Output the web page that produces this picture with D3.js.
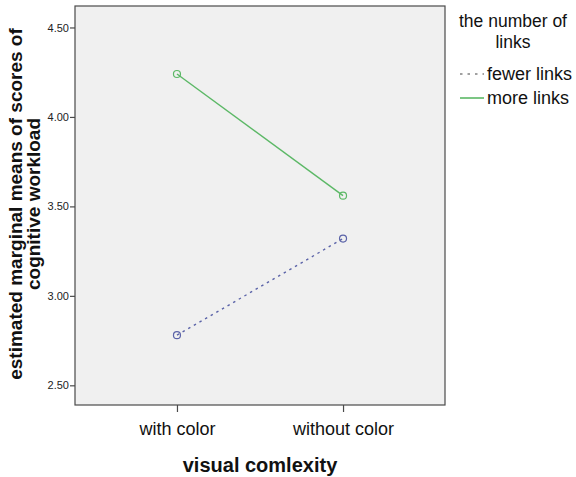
<!DOCTYPE html>
<html>
<head>
<meta charset="utf-8">
<script src="https://cdn.jsdelivr.net/npm/d3@7"></script>
<style>
  html, body { margin: 0; padding: 0; background: #ffffff; }
  svg { display: block; font-family: "Liberation Sans", Arial, sans-serif; }
</style>
</head>
<body>
<svg id="chart" width="576" height="477"></svg>
<script>
// Estimated marginal means: visual complexity x number of links
const categories = ["with color", "without color"];
const seriesNames = ["fewer links", "more links"];
const fewerLinks = [2.78, 3.32];
const moreLinks = [4.24, 3.56];
const yTicks = [2.50, 3.00, 3.50, 4.00, 4.50];
const yDomain = [2.39, 4.62];

const svg = d3.select("#chart");
const plot = { left: 75, top: 6, right: 445, bottom: 405 };

const x = d3.scalePoint()
  .domain(categories)
  .range([plot.left, plot.right])
  .padding(0.614);

const y = d3.scaleLinear()
  .domain(yDomain)
  .range([plot.bottom, plot.top]);

// plot background and frame
svg.append("rect")
  .attr("x", plot.left).attr("y", plot.top)
  .attr("width", plot.right - plot.left)
  .attr("height", plot.bottom - plot.top)
  .attr("fill", "#f0f0f0")
  .attr("stroke", "#4a4a4a")
  .attr("stroke-width", 1.2);

// y axis
const yAxis = svg.append("g")
  .attr("transform", `translate(${plot.left},0)`)
  .call(d3.axisLeft(y).tickValues(yTicks).tickFormat(d3.format(".2f")).tickSize(5).tickSizeOuter(0));
yAxis.select(".domain").remove();
yAxis.selectAll(".tick line").attr("stroke", "#4a4a4a").attr("stroke-width", 1.2);
yAxis.selectAll(".tick text")
  .attr("font-size", 11)
  .attr("font-family", "'Liberation Sans', Arial, sans-serif")
  .attr("fill", "#222222")
  .attr("x", -6);

// x axis
const xAxis = svg.append("g")
  .attr("transform", `translate(0,${plot.bottom})`)
  .call(d3.axisBottom(x).tickSize(7).tickSizeOuter(0));
xAxis.select(".domain").remove();
xAxis.selectAll(".tick line").attr("stroke", "#4a4a4a").attr("stroke-width", 1.2);
xAxis.selectAll(".tick text")
  .attr("font-size", 18)
  .attr("font-family", "'Liberation Sans', Arial, sans-serif")
  .attr("fill", "#111111")
  .attr("y", 17);

// axis titles
svg.append("text")
  .attr("x", (plot.left + plot.right) / 2)
  .attr("y", 472)
  .attr("text-anchor", "middle")
  .attr("font-size", 20)
  .attr("font-weight", "bold")
  .attr("fill", "#111111")
  .text("visual comlexity");

const yTitle = svg.append("text")
  .attr("transform", "translate(22,204) rotate(-90)")
  .attr("text-anchor", "middle")
  .attr("font-size", 19)
  .attr("font-weight", "bold")
  .attr("fill", "#111111");
yTitle.append("tspan").attr("x", 0).attr("y", 0).text("estimated marginal means of scores of");
yTitle.append("tspan").attr("x", 0).attr("y", 18).text("cognitive workload");

// series
const series = [
  { name: seriesNames[0], values: fewerLinks, color: "#5b63a8", dash: "2.5,4" },
  { name: seriesNames[1], values: moreLinks, color: "#5cb866", dash: null }
];

const line = d3.line()
  .x((d, i) => x(categories[i]))
  .y(d => y(d));

series.forEach(s => {
  svg.append("path")
    .datum(s.values)
    .attr("d", line)
    .attr("fill", "none")
    .attr("stroke", s.color)
    .attr("stroke-width", 1.4)
    .attr("stroke-dasharray", s.dash);
  svg.selectAll(null)
    .data(s.values)
    .enter().append("circle")
    .attr("cx", (d, i) => x(categories[i]))
    .attr("cy", d => y(d))
    .attr("r", 3.5)
    .attr("fill", "none")
    .attr("stroke", s.color)
    .attr("stroke-width", 1.2);
});

// legend
const legend = svg.append("g");
legend.append("text")
  .attr("x", 513).attr("y", 27)
  .attr("text-anchor", "middle")
  .attr("font-size", 17.5)
  .attr("fill", "#111111")
  .text("the number of");
legend.append("text")
  .attr("x", 513).attr("y", 48)
  .attr("text-anchor", "middle")
  .attr("font-size", 17.5)
  .attr("fill", "#111111")
  .text("links");

series.forEach((s, i) => {
  const ly = 74 + i * 24;
  legend.append("line")
    .attr("x1", 460).attr("x2", 484)
    .attr("y1", ly).attr("y2", ly)
    .attr("stroke", i === 0 ? "#444444" : s.color)
    .attr("stroke-width", i === 0 ? 1.2 : 1.6)
    .attr("stroke-dasharray", i === 0 ? "2.5,5" : null);
  legend.append("text")
    .attr("x", 487).attr("y", ly + 6)
    .attr("font-size", 18)
    .attr("fill", "#111111")
    .text(s.name);
});
</script>
</body>
</html>
